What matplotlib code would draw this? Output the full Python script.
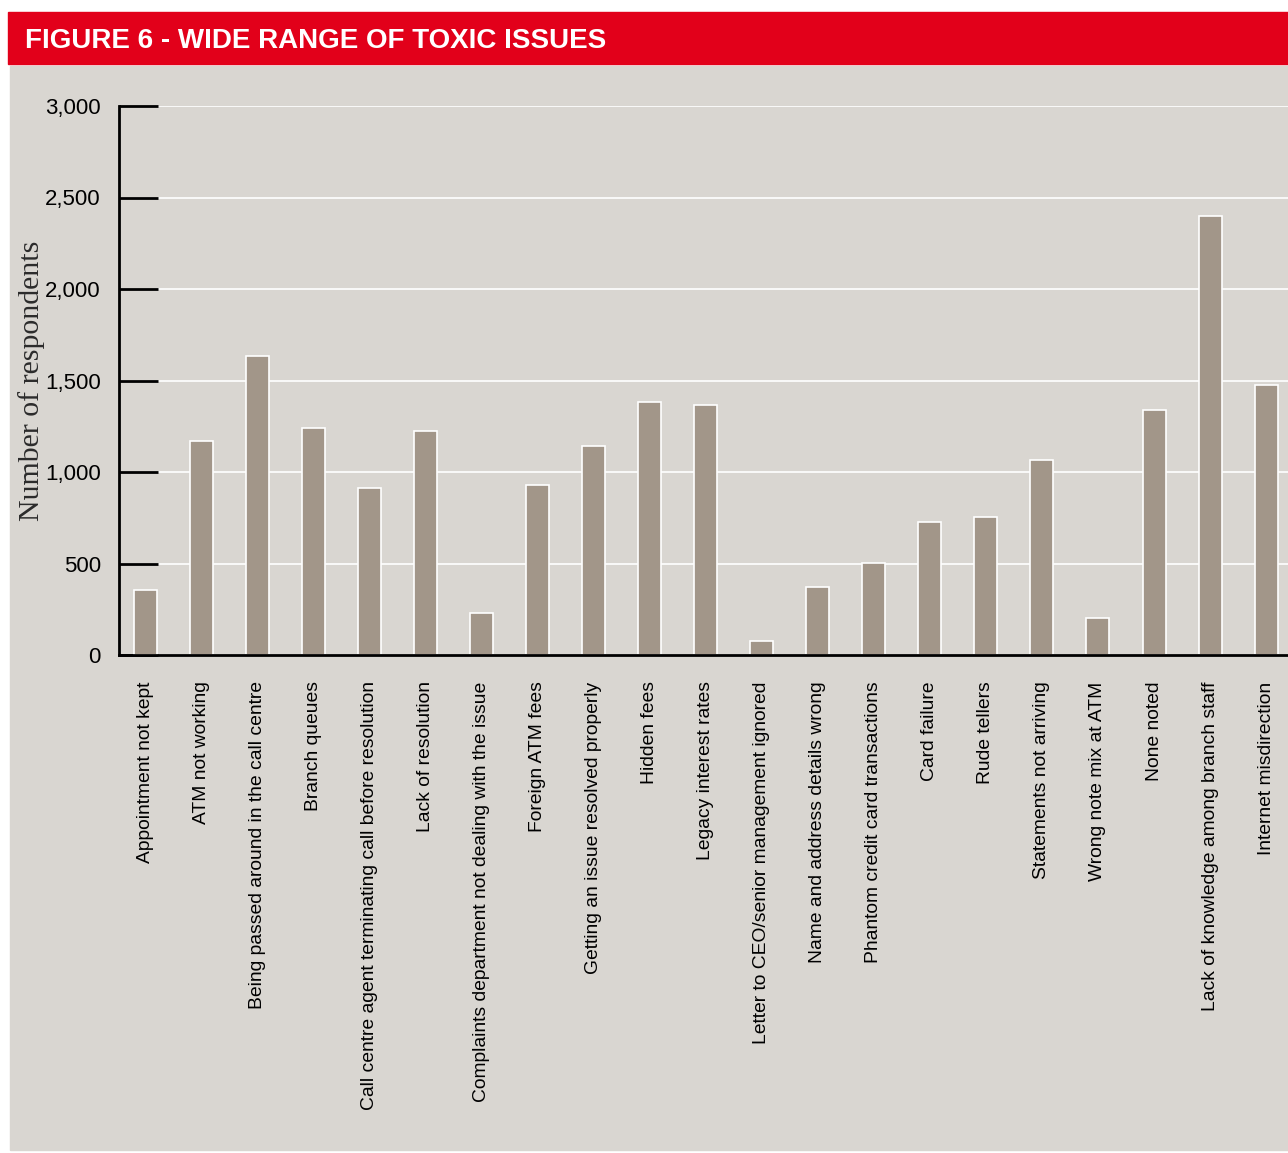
import matplotlib
matplotlib.use("Agg")
import matplotlib.pyplot as plt
from matplotlib.patches import Rectangle
import numpy as np

issues = [
    "Appointment not kept",
    "ATM not working",
    "Being passed around in the call centre",
    "Branch queues",
    "Call centre agent terminating call before resolution",
    "Lack of resolution",
    "Complaints department not dealing with the issue",
    "Foreign ATM fees",
    "Getting an issue resolved properly",
    "Hidden fees",
    "Legacy interest rates",
    "Letter to CEO/senior management ignored",
    "Name and address details wrong",
    "Phantom credit card transactions",
    "Card failure",
    "Rude tellers",
    "Statements not arriving",
    "Wrong note mix at ATM",
    "None noted",
    "Lack of knowledge among branch staff",
    "Internet misdirection",
]
respondents = [355, 1169, 1634, 1240, 913, 1224, 230, 929, 1142, 1383, 1366,
               77, 372, 503, 727, 754, 1066, 202, 1339, 2399, 1475]
y_ticks = [0, 500, 1000, 1500, 2000, 2500, 3000]

PANEL = "#d9d6d1"
BAR = "#a29689"
RED = "#e2001a"
SANS = ["Liberation Sans", "DejaVu Sans"]
SERIF = ["Liberation Serif", "DejaVu Serif"]

W, H = 1288, 1153
fig = plt.figure(figsize=(W / 100, H / 100), dpi=100, facecolor="white")

# grey panel and red title banner, kept behind the axes
fig.patches.append(Rectangle((10 / W, 3 / H), 1 - 10 / W, (1150 - 66) / H,
                             transform=fig.transFigure, color=PANEL, zorder=-10))
fig.patches.append(Rectangle((8 / W, 1 - 64 / H), 1 - 8 / W, 52 / H,
                             transform=fig.transFigure, color=RED, zorder=-10))
fig.text(25 / W, 1 - 41 / H, "FIGURE 6 - WIDE RANGE OF TOXIC ISSUES",
         color="white", fontsize=20, fontweight="bold", family=SANS,
         va="center", ha="left")

ax = fig.add_axes([119 / W, 498 / H, 1 - 119 / W, 549 / H])
ax.set_zorder(1)
ax.set_facecolor(PANEL)
x = np.arange(len(issues))
ax.bar(x, respondents, width=0.41, color=BAR, edgecolor="white",
       linewidth=1.2, zorder=3)

ax.set_xlim(-0.464, 20.39)
ax.set_ylim(0, 3000)
ax.set_yticks(y_ticks)
ax.set_yticklabels([f"{v:,}" for v in y_ticks], family=SANS, fontsize=16)
ax.yaxis.grid(True, color="white", linewidth=1.2, zorder=0)
ax.set_axisbelow(True)
ax.tick_params(axis="y", direction="in", length=28, width=2, color="black",
               pad=13)
ax.set_xticks(x)
ax.set_xticklabels(issues, rotation=90, family=SANS, fontsize=13.9)
ax.tick_params(axis="x", length=0, pad=19)

for side in ("top", "right"):
    ax.spines[side].set_visible(False)
for side in ("left", "bottom"):
    ax.spines[side].set_linewidth(2)
    ax.spines[side].set_zorder(4)

ax.set_ylabel("Number of respondents", family=SERIF, fontsize=21.5,
              color="#2b2b2b")
ax.yaxis.set_label_coords(-74 / (W - 119), (655 - 381) / 549)

fig.savefig("out.png", dpi=100, facecolor="white")
